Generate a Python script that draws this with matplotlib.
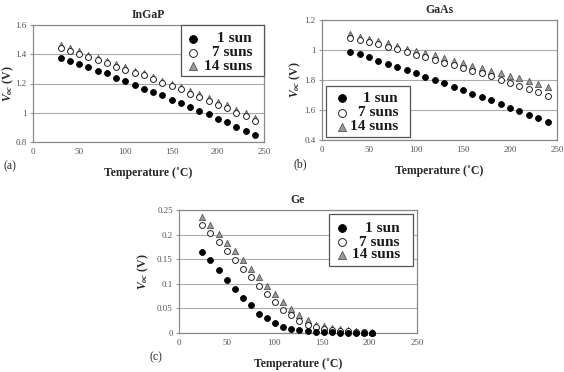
import matplotlib
matplotlib.use("Agg")
import matplotlib.pyplot as plt
from matplotlib.patches import Rectangle

plt.rcParams['font.family'] = ['Liberation Serif', 'DejaVu Serif']
plt.rcParams['mathtext.fontset'] = 'custom'
plt.rcParams['mathtext.rm'] = 'Liberation Serif:bold'
plt.rcParams['mathtext.it'] = 'Liberation Serif:bold:italic'

# ---------------- data ----------------
series_names = ["1 sun", "7 suns", "14 suns"]

temp_ab = [30, 40, 50, 60, 70, 80, 90, 100, 110, 120, 130, 140, 150, 160, 170,
           180, 190, 200, 210, 220, 230, 240]

ingap_1 = [1.375, 1.355, 1.335, 1.31, 1.285, 1.27, 1.24, 1.215, 1.19, 1.165, 1.14,
           1.12, 1.09, 1.065, 1.04, 1.015, 0.99, 0.96, 0.935, 0.905, 0.875, 0.85]
ingap_7 = [1.445, 1.425, 1.405, 1.38, 1.36, 1.34, 1.315, 1.295, 1.27, 1.255, 1.23,
           1.205, 1.18, 1.16, 1.13, 1.11, 1.08, 1.055, 1.03, 1.0, 0.975, 0.945]
ingap_14 = [1.46, 1.44, 1.42, 1.395, 1.375, 1.355, 1.33, 1.31, 1.285, 1.27, 1.245,
            1.22, 1.195, 1.175, 1.15, 1.125, 1.1, 1.075, 1.05, 1.02, 0.995, 0.965]

gaas_1 = [0.99, 0.975, 0.955, 0.93, 0.91, 0.89, 0.865, 0.845, 0.82, 0.8, 0.78,
          0.755, 0.735, 0.71, 0.69, 0.665, 0.64, 0.615, 0.595, 0.57, 0.545, 0.52]
gaas_7 = [1.08, 1.07, 1.055, 1.04, 1.02, 1.005, 0.99, 0.97, 0.955, 0.935, 0.915,
          0.9, 0.88, 0.86, 0.845, 0.825, 0.80, 0.78, 0.76, 0.74, 0.72, 0.695]
gaas_14 = [1.105, 1.09, 1.075, 1.06, 1.045, 1.03, 1.01, 0.995, 0.98, 0.965, 0.945,
           0.93, 0.915, 0.895, 0.88, 0.86, 0.845, 0.825, 0.81, 0.795, 0.775, 0.755]

temp_c = [24.5, 33, 41.5, 50, 58.5, 67, 75.5, 84, 92.5, 101, 109.5, 118, 126.5,
          135, 143.5, 152, 160.5, 169, 177.5, 186, 194.5, 203]
ge_1 = [0.164, 0.148, 0.128, 0.107, 0.09, 0.071, 0.056, 0.039, 0.030, 0.020, 0.012,
        0.009, 0.006, 0.004, 0.003, 0.002, 0.0015, 0.001, 0.001, 0.0008, 0.0005, 0.0004]
ge_7 = [0.22, 0.203, 0.185, 0.166, 0.149, 0.130, 0.114, 0.095, 0.080, 0.064, 0.047,
        0.036, 0.025, 0.017, 0.012, 0.009, 0.007, 0.005, 0.004, 0.003, 0.002, 0.001]
ge_14 = [0.235, 0.219, 0.202, 0.183, 0.166, 0.148, 0.131, 0.113, 0.095, 0.079, 0.064,
         0.049, 0.036, 0.026, 0.017, 0.014, 0.010, 0.008, 0.006, 0.004, 0.003, 0.002]

x_ticks = [0, 50, 100, 150, 200, 250]
ingap_yticks = [0.8, 1.0, 1.2, 1.4, 1.6]
ingap_ylabels = ["0.8", "1", "1.2", "1.4", "1.6"]
gaas_yticks = [0.4, 0.6, 0.8, 1.0, 1.2]
gaas_ylabels = ["0.4", "1.6", "1.8", "1", "1.2"]
ge_yticks = [0, 0.05, 0.1, 0.15, 0.2, 0.25]
ge_ylabels = ["0", "0.05", "0.1", "0.15", "0.2", "0.25"]

# ---------------- figure ----------------
fig = plt.figure(figsize=(5.64, 3.72), dpi=100)
W, H = 564.0, 372.0

styles = [
    dict(marker='o', facecolor='black', edgecolor='black', linewidths=0.6),
    dict(marker='o', facecolor='white', edgecolor='#222222', linewidths=0.7),
    dict(marker='^', facecolor='#9a9a9a', edgecolor='#555555', linewidths=0.6),
]
data_sizes = [18, 18, 20]
leg_sizes = [32, 32, 34]
TXT = '#2a2a2a'


def panel(r, title, xs, ys_list, yticks, ylabels, ylim, letter, ylab_off, leg):
    l, t, rr, b = r
    ax = fig.add_axes([l / W, 1 - b / H, (rr - l) / W, (b - t) / H])
    pw, ph = rr - l, b - t
    fx = lambda px: (px - l) / pw
    fy = lambda py: (b - py) / ph
    for i in [2, 1, 0]:
        ax.scatter(xs, ys_list[i], s=data_sizes[i], zorder=3 + (2 - i), clip_on=False,
                   **styles[i])
    ax.set_xlim(0, 250)
    ax.set_ylim(*ylim)
    ax.set_xticks(x_ticks)
    ax.set_xticklabels([str(v) for v in x_ticks])
    ax.set_yticks(yticks)
    ax.set_yticklabels(ylabels)
    ax.tick_params(axis='x', length=0, labelsize=6.5, colors='#555555', pad=4)
    ax.tick_params(axis='y', length=2.5, width=0.8, labelsize=6.5, colors='#555555',
                   pad=2, color='#999999')
    ax.yaxis.grid(True, color='#aaaaaa', linewidth=0.8)
    ax.set_axisbelow(True)
    for sp in ax.spines.values():
        sp.set_color('#888888')
        sp.set_linewidth(0.9)
    ax.set_title(title, fontsize=8.5, fontweight='bold', color=TXT, pad=5)
    ax.set_xlabel('Temperature (˚C)', fontsize=8.5, fontweight='bold', color=TXT, labelpad=8)
    ax.text(fx(l - ylab_off), 0.5, r'$V_{oc}$ (V)', transform=ax.transAxes, rotation=90,
            ha='center', va='center', fontsize=8.5, fontweight='bold', color=TXT)
    ax.text(fx(l - 29 if letter != '(c)' else l - 30), fy(b + 24), letter,
            transform=ax.transAxes, fontsize=8.5, color=TXT, ha='left', va='center')
    # legend drawn manually to allow right-aligned labels
    (bx0, by0, bx1, by1), rows, mx, tx = leg
    ax.add_patch(Rectangle((fx(bx0), fy(by1)), fx(bx1) - fx(bx0), fy(by0) - fy(by1),
                           transform=ax.transAxes, facecolor='white', edgecolor='#555555',
                           linewidth=0.9, zorder=10, clip_on=False))
    for i, ry in enumerate(rows):
        ax.scatter([fx(mx)], [fy(ry)], s=leg_sizes[i], transform=ax.transAxes,
                   zorder=11, clip_on=False, **styles[i])
        ax.text(fx(tx), fy(ry), series_names[i], transform=ax.transAxes, ha='right',
                va='center', fontsize=11, fontweight='bold', color='#1a1a1a', zorder=12)
    return ax


panel((33, 25, 264, 142), 'InGaP', temp_ab, [ingap_1, ingap_7, ingap_14],
      ingap_yticks, ingap_ylabels, (0.8, 1.6), '(a)', 25,
      ((181, 25, 264, 76), [39, 53, 66], 193, 252))
panel((322, 20, 557, 140), 'GaAs', temp_ab, [gaas_1, gaas_7, gaas_14],
      gaas_yticks, gaas_ylabels, (0.4, 1.2), '(b)', 27,
      ((326, 86, 410, 137), [98, 113, 127], 342, 398))
panel((179, 210, 417, 333), 'Ge', temp_c, [ge_1, ge_7, ge_14],
      ge_yticks, ge_ylabels, (0, 0.25), '(c)', 36,
      ((329, 214, 413, 266), [228, 242, 255], 342, 400))

fig.savefig('out.png', dpi=100)
